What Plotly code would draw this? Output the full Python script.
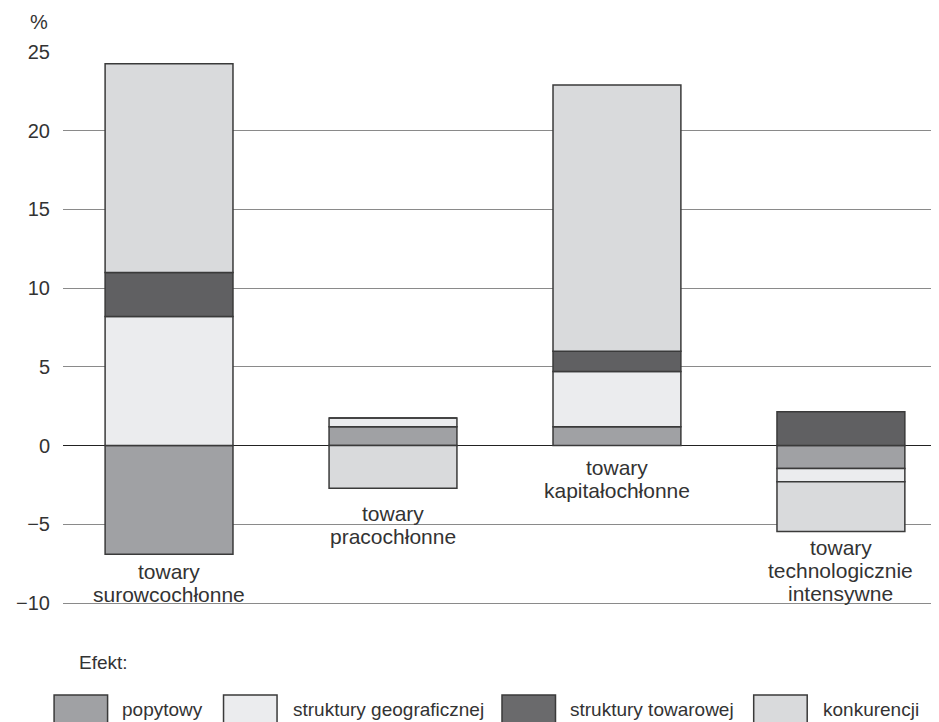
import plotly.graph_objects as go

# ---- data ----
categories = ["towary surowcochłonne", "towary pracochłonne",
              "towary kapitałochłonne", "towary technologicznie intensywne"]
category_lines = [["towary", "surowcochłonne"],
                  ["towary", "pracochłonne"],
                  ["towary", "kapitałochłonne"],
                  ["towary", "technologicznie", "intensywne"]]
series_names = ["popytowy", "struktury geograficznej", "struktury towarowej", "konkurencji"]
popytowy = [-6.9, 1.2, 1.2, -1.45]
struktury_geograficznej = [8.2, 0.55, 3.5, -0.85]
struktury_towarowej = [2.8, 0.0, 1.3, 2.15]
konkurencji = [13.25, -2.7, 16.9, -3.15]
y_ticks = [-10, -5, 0, 5, 10, 15, 20, 25]
y_tick_labels = ["\u221210", "\u22125", "0", "5", "10", "15", "20", "25"]

# ---- styling / layout constants ----
colors = ["#a0a1a4", "#ebecee", "#606062", "#d9dadc"]
legend_colors = ["#a0a1a4", "#ebecee", "#6a6a6c", "#d9dadc"]
FONT = "Liberation Sans, Arial, sans-serif"
TXT = "#333333"
OFF = 8                      # page body margin of the html page
W, H = 939, 722
Y_MIN, Y_MAX = -10.25, 25.0
# desired positions in the viewport
PL, PR, PT = 55, 939, 52
PB = 603 + (-10 - Y_MIN) * (551 / 35)
L, T = PL - OFF, PT - OFF
R = W - (PR - OFF)
B = H - (PB - OFF)
label_anchor_y = [-8.0, -4.3, -1.4, -6.5]   # where the first label line sits (y units)

series = [popytowy, struktury_geograficznej, struktury_towarowej, konkurencji]
xs = list(range(len(categories)))

fig = go.Figure()
for name, vals, col in zip(series_names, series, colors):
    fig.add_trace(go.Bar(
        x=xs, y=vals, name=name, width=0.571,
        marker=dict(color=col, line=dict(color="#3a3a3a", width=1.5)),
        showlegend=False,
    ))

annotations = []
for i, lines in enumerate(category_lines):
    for j, line in enumerate(lines):
        annotations.append(dict(
            x=xs[i], y=label_anchor_y[i], xref="x", yref="y",
            text=line, showarrow=False, yshift=-23 * j,
            font=dict(family=FONT, size=21, color=TXT),
            xanchor="center", yanchor="middle",
        ))

pw, ph = PR - PL, PB - PT
def px(x):
    return (x - PL) / pw
def py(y):
    return (PB - y) / ph

annotations.append(dict(x=px(42), y=py(22), xref="paper", yref="paper", text="%",
                        showarrow=False, xanchor="right", yanchor="middle",
                        font=dict(family=FONT, size=20, color=TXT)))
annotations.append(dict(x=px(69), y=py(662), xref="paper", yref="paper", text="Efekt:",
                        showarrow=False, xanchor="left", yanchor="middle",
                        font=dict(family=FONT, size=19, color=TXT)))

shapes = []
box_left = [46, 217, 498, 752]
text_left = [113, 285, 565, 820]
for name, col, bl, tl in zip(series_names, legend_colors, box_left, text_left):
    shapes.append(dict(type="rect", xref="paper", yref="paper",
                       x0=px(bl), x1=px(bl + 54), y0=py(695), y1=py(726),
                       fillcolor=col, line=dict(color="#3a3a3a", width=1.5)))
    annotations.append(dict(x=px(tl), y=py(709), xref="paper", yref="paper", text=name,
                            showarrow=False, xanchor="left", yanchor="middle",
                            font=dict(family=FONT, size=19, color=TXT)))

fig.update_layout(
    width=W, height=H,
    margin=dict(l=L, r=R, t=T, b=B, pad=0),
    barmode="relative",
    plot_bgcolor="white", paper_bgcolor="white",
    showlegend=False,
    annotations=annotations,
    shapes=shapes,
    xaxis=dict(range=[-0.4735, 3.438], showticklabels=False, showgrid=False,
               zeroline=False, showline=False, ticks=""),
    yaxis=dict(range=[Y_MIN, Y_MAX], tickvals=y_ticks, ticktext=y_tick_labels,
               showgrid=True, gridcolor="#8a8a8a", gridwidth=1.3,
               zeroline=True, zerolinecolor="#222222", zerolinewidth=1.3,
               showline=False, ticks="", ticklabelstandoff=12,
               tickfont=dict(family=FONT, size=20, color=TXT)),
    font=dict(family=FONT, color=TXT),
)

fig.write_html("out.html")
